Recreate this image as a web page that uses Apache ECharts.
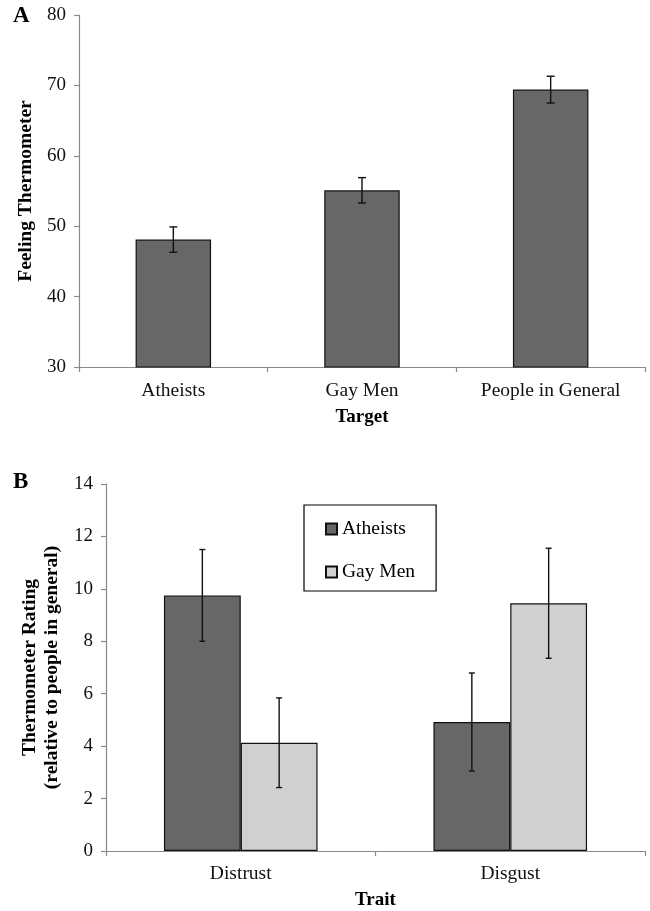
<!DOCTYPE html>
<html>
<head>
<meta charset="utf-8">
<script src="https://cdn.jsdelivr.net/npm/echarts@6/dist/echarts.min.js"></script>
<style>
  html, body { margin: 0; padding: 0; background: #fff; }
  #chart { width: 650px; height: 911px; }
</style>
</head>
<body>
<div id="chart"></div>
<script>
// ---- Data ----
const targetCategories = ['Atheists', 'Gay Men', 'People in General'];
const thermometerMeans = [48.1, 55.1, 69.4];
const thermometerErrors = [1.8, 1.8, 1.9];
const yTicksA = [30, 40, 50, 60, 70, 80];

const traitCategories = ['Distrust', 'Disgust'];
const atheistsRatings = [9.75, 4.92];
const atheistsErrors = [1.75, 1.87];
const gayMenRatings = [4.13, 9.45];
const gayMenErrors = [1.71, 2.1];
const yTicksB = [0, 2, 4, 6, 8, 10, 12, 14];

// ---- Styles ----
const FONT = 'Liberation Serif';
const AXIS_GREY = '#8a8a8a';
const DARK = '#676767';
const LIGHT = '#d0d0d0';

function errorSeries(xAxisIndex, yAxisIndex, means, errs, offsetFrac, cap) {
  return {
    type: 'custom',
    xAxisIndex: xAxisIndex,
    yAxisIndex: yAxisIndex,
    z: 10,
    silent: true,
    data: means.map((m, i) => [i, m - errs[i], m + errs[i]]),
    renderItem: function (params, api) {
      const i = api.value(0);
      const lo = api.coord([i, api.value(1)]);
      const hi = api.coord([i, api.value(2)]);
      const band = api.size([1, 0])[0];
      const x = lo[0] + band * offsetFrac;
      const style = { stroke: '#111', lineWidth: 1.4 };
      return {
        type: 'group',
        children: [
          { type: 'line', shape: { x1: x, y1: lo[1], x2: x, y2: hi[1] }, style: style },
          { type: 'line', shape: { x1: x - cap, y1: lo[1], x2: x + cap, y2: lo[1] }, style: style },
          { type: 'line', shape: { x1: x - cap, y1: hi[1], x2: x + cap, y2: hi[1] }, style: style }
        ]
      };
    }
  };
}

const axisCommon = {
  axisLine: { show: true, lineStyle: { color: AXIS_GREY, width: 1.2 } },
  axisTick: { show: true, length: 5, lineStyle: { color: AXIS_GREY, width: 1.2 } },
  splitLine: { show: false }
};

const option = {
  backgroundColor: '#fff',
  animation: false,
  textStyle: { fontFamily: FONT },
  grid: [
    { left: 79, top: 15, width: 566, height: 352 },
    { left: 106, top: 484, width: 539, height: 370 }
  ],
  legend: {
    show: true,
    data: ['Atheists', 'Gay Men'],
    orient: 'vertical',
    left: 304,
    top: 505,
    itemGap: 23,
    itemWidth: 11,
    itemHeight: 11,
    icon: 'rect',
    borderColor: '#000',
    borderWidth: 1.2,
    padding: [14, 21, 9, 21],
    textStyle: { fontFamily: FONT, fontSize: 19.5, color: '#000' }
  },
  xAxis: [
    Object.assign({}, axisCommon, {
      type: 'category', gridIndex: 0, data: targetCategories,
      axisLabel: { margin: 14, fontFamily: FONT, fontSize: 19.5, color: '#111' },
      name: 'Target', nameLocation: 'middle', nameGap: 41,
      nameTextStyle: { fontFamily: FONT, fontSize: 19, fontWeight: 'bold', color: '#000' }
    }),
    Object.assign({}, axisCommon, {
      type: 'category', gridIndex: 1, data: traitCategories,
      axisLabel: { margin: 13, fontFamily: FONT, fontSize: 19.5, color: '#111' },
      name: 'Trait', nameLocation: 'middle', nameGap: 40,
      nameTextStyle: { fontFamily: FONT, fontSize: 19, fontWeight: 'bold', color: '#000' }
    })
  ],
  yAxis: [
    Object.assign({}, axisCommon, {
      type: 'value', gridIndex: 0,
      min: yTicksA[0], max: yTicksA[yTicksA.length - 1], interval: 10,
      axisLabel: { margin: 13, fontFamily: FONT, fontSize: 19, color: '#111' },
      name: 'Feeling Thermometer', nameLocation: 'middle', nameGap: 40, nameRotate: 90,
      nameTextStyle: { fontFamily: FONT, fontSize: 19.5, fontWeight: 'bold', color: '#000' }
    }),
    Object.assign({}, axisCommon, {
      type: 'value', gridIndex: 1,
      min: yTicksB[0], max: yTicksB[yTicksB.length - 1], interval: 2,
      axisLabel: { margin: 13, fontFamily: FONT, fontSize: 19, color: '#111' },
      name: 'Thermometer Rating\n(relative to people in general)', nameLocation: 'middle', nameGap: 38, nameRotate: 90,
      nameTextStyle: { fontFamily: FONT, fontSize: 19.5, fontWeight: 'bold', color: '#000', lineHeight: 22 }
    })
  ],
  graphic: [
    { type: 'text', left: 13, top: 5, style: { text: 'A', font: 'bold 23px "Liberation Serif"', fill: '#000' } },
    { type: 'text', left: 13, top: 471, style: { text: 'B', font: 'bold 23px "Liberation Serif"', fill: '#000' } }
  ],
  series: [
    {
      name: 'Feeling', type: 'bar', xAxisIndex: 0, yAxisIndex: 0,
      data: thermometerMeans, barCategoryGap: '60%',
      itemStyle: { color: DARK, borderColor: '#111', borderWidth: 1.2 }
    },
    errorSeries(0, 0, thermometerMeans, thermometerErrors, 0, 4),
    {
      name: 'Atheists', type: 'bar', xAxisIndex: 1, yAxisIndex: 1,
      data: atheistsRatings, barGap: '0%', barCategoryGap: '43%',
      itemStyle: { color: DARK, borderColor: '#111', borderWidth: 1.2 }
    },
    {
      name: 'Gay Men', type: 'bar', xAxisIndex: 1, yAxisIndex: 1,
      data: gayMenRatings, barGap: '0%', barCategoryGap: '43%',
      itemStyle: { color: LIGHT, borderColor: '#111', borderWidth: 1.2 }
    },
    errorSeries(1, 1, atheistsRatings, atheistsErrors, -0.1425, 3),
    errorSeries(1, 1, gayMenRatings, gayMenErrors, 0.1425, 3)
  ]
};

const chart = echarts.init(document.getElementById('chart'), null, { renderer: 'canvas' });
chart.setOption(option);
</script>
</body>
</html>
